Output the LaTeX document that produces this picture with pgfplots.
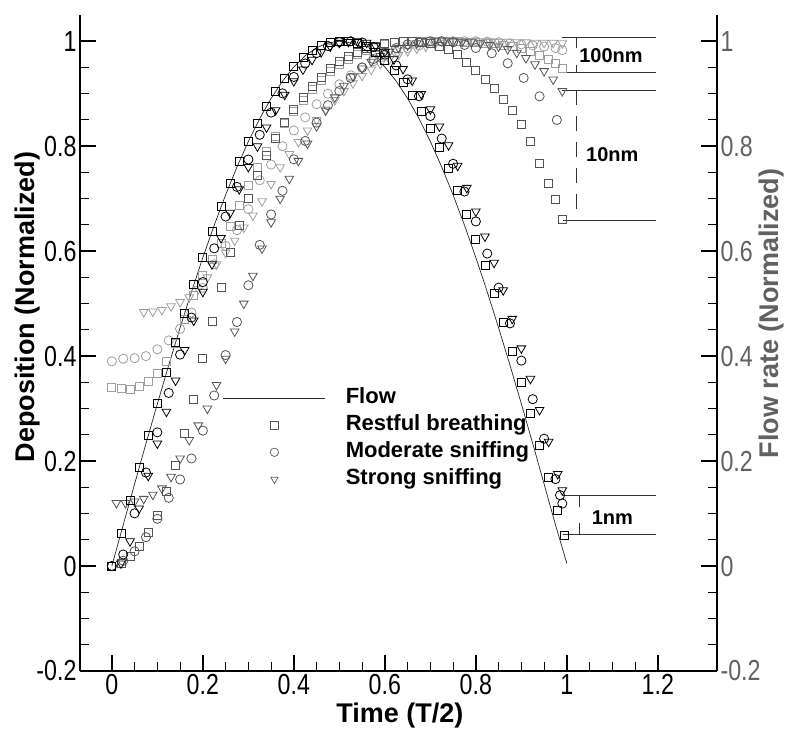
\documentclass[border=0pt]{standalone}
\usepackage{pgfplots}
\pgfplotsset{compat=1.18}
\usepackage{fontspec}
\setmainfont{Liberation Sans}
\newfontfamily\tickfont{Liberation Sans}[FakeStretch=0.8]
\definecolor{cten}{gray}{0.33}
\definecolor{chun}{gray}{0.62}
\definecolor{rgray}{gray}{0.38}
\pgfplotsset{
 common/.style={
  scale only axis, width=637pt, height=656pt,
  at={(0,0)}, anchor=south west,
  xmin=-0.07, xmax=1.33, ymin=-0.2, ymax=1.05,
  tick align=inside,
  major tick length=16pt, minor tick length=9pt,
  every major tick/.append style={line width=2.2pt, black},
  every minor tick/.append style={line width=1.1pt, black},
  minor tick num=3,
  axis line style={line width=2.5pt, -},
  ticklabel style={font=\tickfont\fontsize{29}{30}\selectfont},
  ytick={-0.2,0,0.2,0.4,0.6,0.8,1},
  yticklabels={-0.2,0,0.2,0.4,0.6,0.8,1},
 },
 sq/.style={only marks, mark=square, mark size=4pt, mark options={line width=0.8pt}},
 ci/.style={only marks, mark=o, mark size=4.6pt, mark options={line width=0.8pt}},
 tr/.style={only marks, mark=triangle, mark size=5pt, mark options={line width=0.8pt, rotate=180}},
 legline/.style={legend image code/.code={\draw[##1] (0pt,0pt)--(102pt,0pt); \path (122pt,0pt);}},
 legmark/.style={legend image code/.code={\draw[##1] plot coordinates {(51pt,0pt)}; \path (0pt,0pt) (122pt,0pt);}},
}
\begin{document}
\begin{tikzpicture}
\begin{axis}[common,
  axis x line*=bottom, axis y line*=left,
  xtick={0,0.2,0.4,0.6,0.8,1,1.2},
  xticklabels={0,0.2,0.4,0.6,0.8,1,1.2},
  xlabel={Time (T/2)},
  ylabel={Deposition (Normalized)},
  label style={font=\bfseries\fontsize{27}{30}\selectfont},
  xlabel style={at={(axis description cs:0.502,-0.068)}, anchor=center},
  ylabel style={at={(axis description cs:-0.082,0.555)}, anchor=center},
  legend style={at={(axis cs:0.244,0.340)}, anchor=north west, draw=none, fill=none,
    font=\bfseries\fontsize{22}{24}\selectfont, inner sep=0pt,
    nodes={inner sep=0pt, text height=16pt, text depth=5pt}, row sep=6pt},
  legend cell align=left,
]
% ---- 100 nm (light gray) ----
\addplot[sq, chun, forget plot] coordinates {
(0,0.34) (0.02,0.338) (0.04,0.336) (0.06,0.342) (0.08,0.352) (0.10,0.368) (0.12,0.39) (0.14,0.425)
(0.16,0.47) (0.18,0.515) (0.20,0.553) (0.22,0.585) (0.24,0.615) (0.26,0.648) (0.28,0.688) (0.30,0.725)
(0.32,0.76) (0.34,0.79) (0.36,0.818) (0.38,0.843) (0.40,0.866) (0.42,0.888) (0.44,0.908) (0.46,0.926)
(0.48,0.942) (0.50,0.955) (0.52,0.966) (0.54,0.975) (0.56,0.983) (0.58,0.989) (0.60,0.994) (0.62,0.997)
(0.64,0.999) (0.66,1.0) (0.68,1.0) (0.70,1.0) (0.72,1.0) (0.74,0.999) (0.76,0.999) (0.78,0.998)
(0.80,0.997) (0.82,0.996) (0.84,0.995) (0.86,0.993) (0.88,0.99) (0.90,0.986) (0.92,0.98) (0.94,0.973)
(0.96,0.966) (0.975,0.958) (0.99,0.949)};
\addplot[ci, chun, forget plot] coordinates {
(0,0.39) (0.025,0.395) (0.05,0.396) (0.075,0.40) (0.10,0.413) (0.125,0.43) (0.15,0.452) (0.175,0.483)
(0.20,0.53) (0.225,0.575) (0.25,0.61) (0.275,0.64) (0.30,0.68) (0.325,0.735) (0.35,0.765) (0.375,0.80)
(0.40,0.83) (0.425,0.855) (0.45,0.88) (0.475,0.90) (0.50,0.918) (0.525,0.935) (0.55,0.95) (0.575,0.962)
(0.60,0.972) (0.625,0.98) (0.65,0.987) (0.675,0.992) (0.70,0.996) (0.725,0.999) (0.75,1.0) (0.775,1.0)
(0.80,1.0) (0.825,0.999) (0.85,0.998) (0.875,0.996) (0.90,0.994) (0.925,0.992) (0.95,0.99) (0.975,0.987)
(0.99,0.983)};
\addplot[tr, chun, forget plot] coordinates {
(0.07,0.484) (0.09,0.485) (0.11,0.488) (0.13,0.495) (0.15,0.503) (0.17,0.512) (0.19,0.528) (0.21,0.55)
(0.23,0.575) (0.25,0.597) (0.27,0.62) (0.29,0.645) (0.31,0.668) (0.33,0.695) (0.35,0.728) (0.37,0.76)
(0.39,0.785) (0.41,0.808) (0.43,0.83) (0.45,0.85) (0.47,0.87) (0.49,0.888) (0.51,0.905) (0.53,0.92)
(0.55,0.934) (0.57,0.946) (0.59,0.957) (0.61,0.966) (0.63,0.974) (0.65,0.981) (0.67,0.986) (0.69,0.99)
(0.71,0.994) (0.73,0.997) (0.75,0.999) (0.77,1.0) (0.79,1.0) (0.81,1.0) (0.83,1.0) (0.85,0.999)
(0.87,0.999) (0.89,0.998) (0.91,0.998) (0.93,0.997) (0.95,0.997) (0.97,0.997) (0.99,0.996)};
% ---- 10 nm (dark gray) ----
\addplot[sq, cten, forget plot] coordinates {
(0,0.0) (0.02,0.005) (0.04,0.018) (0.06,0.038) (0.08,0.065) (0.10,0.097) (0.12,0.143) (0.14,0.192)
(0.16,0.253) (0.18,0.318) (0.20,0.395) (0.22,0.466) (0.24,0.53) (0.26,0.598) (0.28,0.65) (0.30,0.70)
(0.32,0.745) (0.34,0.782) (0.36,0.815) (0.38,0.845) (0.40,0.87) (0.42,0.893) (0.44,0.913) (0.46,0.932)
(0.48,0.948) (0.50,0.961) (0.52,0.971) (0.54,0.979) (0.56,0.986) (0.58,0.991) (0.60,0.995) (0.62,0.998)
(0.64,1.0) (0.66,1.0) (0.68,0.998) (0.70,0.995) (0.72,0.99) (0.74,0.984) (0.76,0.975) (0.78,0.96)
(0.80,0.944) (0.82,0.928) (0.84,0.91) (0.86,0.89) (0.88,0.868) (0.90,0.842) (0.92,0.81) (0.94,0.768)
(0.96,0.73) (0.975,0.698) (0.99,0.661)};
\addplot[ci, cten, forget plot] coordinates {
(0,0.0) (0.025,0.01) (0.05,0.028) (0.075,0.055) (0.10,0.09) (0.125,0.13) (0.15,0.165) (0.175,0.205)
(0.20,0.258) (0.225,0.325) (0.25,0.402) (0.275,0.465) (0.30,0.535) (0.325,0.612) (0.35,0.67) (0.375,0.715)
(0.40,0.775) (0.425,0.81) (0.45,0.845) (0.475,0.878) (0.50,0.905) (0.525,0.93) (0.55,0.95) (0.575,0.966)
(0.60,0.978) (0.625,0.987) (0.65,0.994) (0.675,0.998) (0.70,1.0) (0.725,1.0) (0.75,0.998) (0.775,0.993)
(0.80,0.987) (0.835,0.977) (0.87,0.958) (0.905,0.93) (0.94,0.895) (0.978,0.85)};
\addplot[tr, cten, forget plot] coordinates {
(0.01,0.12) (0.03,0.12) (0.05,0.123) (0.07,0.128) (0.09,0.136) (0.11,0.148) (0.13,0.17) (0.15,0.205)
(0.17,0.24) (0.19,0.268) (0.21,0.30) (0.23,0.345) (0.25,0.395) (0.27,0.447) (0.29,0.50) (0.31,0.553)
(0.33,0.605) (0.35,0.655) (0.37,0.70) (0.39,0.738) (0.41,0.772) (0.43,0.805) (0.45,0.838) (0.47,0.868)
(0.49,0.893) (0.51,0.915) (0.53,0.933) (0.55,0.948) (0.57,0.961) (0.59,0.972) (0.61,0.98) (0.63,0.987)
(0.65,0.992) (0.67,0.996) (0.69,0.999) (0.71,1.0) (0.73,1.0) (0.75,1.0) (0.77,0.999) (0.79,0.998)
(0.81,0.996) (0.83,0.993) (0.85,0.99) (0.87,0.985) (0.89,0.978) (0.91,0.968) (0.93,0.956) (0.95,0.943)
(0.97,0.927) (0.99,0.905)};
% ---- 1 nm (black) ----
\addplot[sq, black, forget plot] coordinates {
(0,0.0) (0.02,0.0628) (0.04,0.1253) (0.06,0.1874) (0.08,0.2487) (0.10,0.3090) (0.12,0.3681) (0.14,0.4258)
(0.16,0.4818) (0.18,0.5358) (0.20,0.5878) (0.22,0.6374) (0.24,0.6845) (0.26,0.7290) (0.28,0.7705) (0.30,0.8090)
(0.32,0.8443) (0.34,0.8763) (0.36,0.9048) (0.38,0.9298) (0.40,0.9511) (0.42,0.9686) (0.44,0.9823) (0.46,0.9921)
(0.48,0.9980) (0.50,1.0) (0.52,0.9998) (0.54,0.9966) (0.56,0.9895) (0.58,0.9785) (0.60,0.9636) (0.62,0.9449)
(0.64,0.9225) (0.66,0.8965) (0.68,0.8669) (0.70,0.8339) (0.72,0.7976) (0.74,0.7581) (0.76,0.7157) (0.78,0.6704)
(0.80,0.6225) (0.82,0.5721) (0.84,0.5195) (0.86,0.4648) (0.88,0.4083) (0.90,0.3502) (0.92,0.2907) (0.94,0.2300)
(0.96,0.1685) (0.98,0.1063) (0.995,0.0593)};
\addplot[ci, black, forget plot] coordinates {
(0,0.0) (0.025,0.022) (0.05,0.1004) (0.075,0.1781) (0.10,0.2548) (0.125,0.3298) (0.15,0.4029) (0.175,0.4735)
(0.20,0.5411) (0.225,0.6054) (0.25,0.6659) (0.275,0.7225) (0.30,0.7746) (0.325,0.8217) (0.35,0.8640) (0.375,0.9007)
(0.40,0.9320) (0.425,0.9576) (0.45,0.9773) (0.475,0.9909) (0.50,0.9984) (0.525,1.0) (0.55,0.9976) (0.575,0.9891)
(0.60,0.9745) (0.625,0.9539) (0.65,0.9274) (0.675,0.8952) (0.70,0.8575) (0.725,0.8145) (0.75,0.7665) (0.775,0.7136)
(0.80,0.6566) (0.825,0.5954) (0.85,0.5305) (0.875,0.4624) (0.90,0.3914) (0.925,0.3180) (0.95,0.2426) (0.975,0.1657)
(0.985,0.135) (0.99,0.1191)};
\addplot[tr, black, forget plot] coordinates {
(0.02,0.005) (0.04,0.0471) (0.06,0.1097) (0.08,0.1719) (0.10,0.2334) (0.12,0.2940) (0.14,0.3535) (0.16,0.4115)
(0.18,0.4679) (0.20,0.5225) (0.22,0.5750) (0.24,0.6252) (0.26,0.6730) (0.28,0.7181) (0.30,0.7604) (0.32,0.7997)
(0.34,0.8358) (0.36,0.8686) (0.38,0.8980) (0.40,0.9239) (0.42,0.9461) (0.44,0.9646) (0.46,0.9792) (0.48,0.9900)
(0.50,0.9969) (0.52,0.9987) (0.54,0.9999) (0.56,0.9972) (0.58,0.9905) (0.60,0.9799) (0.62,0.9655) (0.64,0.9472)
(0.66,0.9252) (0.68,0.8996) (0.70,0.8704) (0.72,0.8377) (0.74,0.8018) (0.76,0.7627) (0.78,0.7206) (0.80,0.6756)
(0.82,0.6280) (0.84,0.5779) (0.86,0.5255) (0.88,0.4710) (0.90,0.4147) (0.92,0.3567) (0.94,0.2974) (0.96,0.2368)
(0.98,0.1754) (0.99,0.1444)};
% ---- flow ----
\addplot[black!85, line width=0.7pt, forget plot] coordinates {
(0,0) (0.025,0.0785) (0.05,0.1564) (0.075,0.2334) (0.1,0.3090) (0.125,0.3827) (0.15,0.4540) (0.175,0.5225)
(0.2,0.5878) (0.225,0.6494) (0.25,0.7071) (0.275,0.7604) (0.3,0.8090) (0.325,0.8526) (0.35,0.8910) (0.375,0.9239)
(0.4,0.9511) (0.425,0.9724) (0.45,0.9877) (0.475,0.9969) (0.5,1.0) (0.525,0.9969) (0.55,0.9877) (0.575,0.9724)
(0.6,0.9511) (0.625,0.9239) (0.65,0.8910) (0.675,0.8526) (0.7,0.8090) (0.725,0.7604) (0.75,0.7071) (0.775,0.6494)
(0.8,0.5878) (0.825,0.5225) (0.85,0.4540) (0.875,0.3827) (0.9,0.3090) (0.925,0.2334) (0.95,0.1564) (0.975,0.0785)
(1.0,0.005)};
% ---- legend ----
\addlegendimage{legline, black!85, line width=0.7pt}
\addlegendentry{Flow}
\addlegendimage{legmark, black!65, mark=square, mark size=3.8pt, line width=0.7pt}
\addlegendentry{Restful breathing}
\addlegendimage{legmark, black!65, mark=o, mark size=4.2pt, line width=0.7pt}
\addlegendentry{Moderate sniffing}
\addlegendimage{legmark, black!65, mark=triangle, mark size=4.2pt, line width=0.7pt, mark options={rotate=180}}
\addlegendentry{Strong sniffing}
% ---- annotations ----
\draw[black!80, line width=0.8pt] (axis cs:0.99,1.007) -- (axis cs:1.195,1.007);
\draw[black!80, line width=0.8pt] (axis cs:0.99,0.940) -- (axis cs:1.195,0.940);
\draw[black!80, line width=0.8pt] (axis cs:1.02,1.007) -- (axis cs:1.02,0.988);
\draw[black!80, line width=0.8pt] (axis cs:1.02,0.955) -- (axis cs:1.02,0.940);
\node[font=\bfseries\fontsize{20}{22}\selectfont] at (axis cs:1.097,0.972) {100nm};
\draw[black!80, line width=0.8pt] (axis cs:0.99,0.907) -- (axis cs:1.195,0.907);
\draw[black!80, line width=0.8pt] (axis cs:0.992,0.659) -- (axis cs:1.195,0.659);
\draw[black!80, line width=0.8pt, dash pattern=on 15pt off 11pt] (axis cs:1.02,0.907) -- (axis cs:1.02,0.67);
\node[font=\bfseries\fontsize{20}{22}\selectfont] at (axis cs:1.10,0.783) {10nm};
\draw[black!80, line width=0.8pt] (axis cs:0.992,0.135) -- (axis cs:1.195,0.135);
\draw[black!80, line width=0.8pt] (axis cs:0.992,0.060) -- (axis cs:1.195,0.060);
\draw[black!80, line width=0.8pt] (axis cs:1.028,0.135) -- (axis cs:1.028,0.112);
\draw[black!80, line width=0.8pt] (axis cs:1.028,0.082) -- (axis cs:1.028,0.060);
\node[font=\bfseries\fontsize{20}{22}\selectfont] at (axis cs:1.10,0.092) {1nm};
\end{axis}
\begin{axis}[common,
  axis x line=none, axis y line*=right,
  yticklabel style={text=rgray},
  ylabel={Flow rate (Normalized)},
  ylabel style={font=\bfseries\fontsize{27}{30}\selectfont, text=rgray,
    at={(axis description cs:1.086,0.545)}, anchor=center},
]
\end{axis}
\pgfresetboundingbox
\path[use as bounding box] (-80pt,-64pt) rectangle (720pt,671pt);
\end{tikzpicture}
\end{document}
